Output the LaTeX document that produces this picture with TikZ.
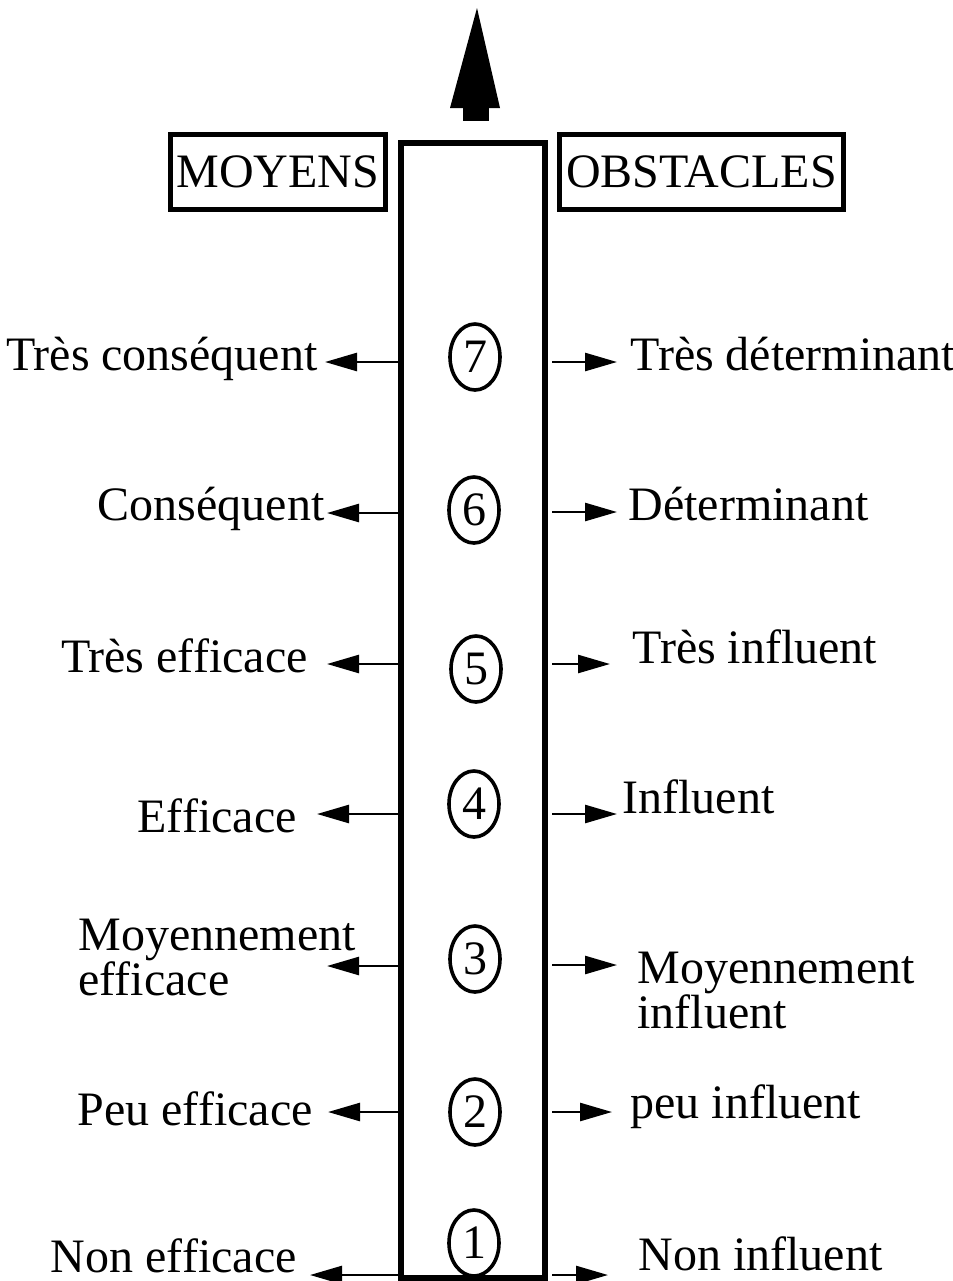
\documentclass[tikz,border=0pt]{standalone}
\usepackage{fontspec}
\setmainfont{Liberation Serif}
\usetikzlibrary{shapes.geometric,arrows.meta}
\tikzset{
    EL/.style ={ellipse, draw, line width=1.8pt, minimum width=25pt, minimum height=33pt, inner sep=0pt},
    BX/.style ={rectangle, draw, line width=2.5pt, minimum height=37.5pt, inner sep=0pt},
    LT/.style ={inner sep=0pt, anchor=base east},
    RT/.style ={inner sep=0pt, anchor=base west, align=left},
    AR/.style ={line width=1.3pt, -{Triangle[length=16pt,width=9pt]}}
}

\begin{document}
\begin{tikzpicture}[x=0.5pt, y=-0.5pt, every node/.append style={font=\fontsize{24pt}{22.5pt}\selectfont}]
    \useasboundingbox (0,0) rectangle (953,1281);
    % axis and top arrow
    \node[rectangle, draw, line width=3pt, minimum width=72pt, minimum height=567.5pt] (col) at (473,710.5) {};
    \fill (450,108) -- (477,8) -- (500,108) -- cycle;
    \fill (463,107) rectangle (489,121);
    % headers
    \node[BX, minimum width=107.5pt] (moy) at (278,171.5) {MOYENS};
    \node[BX, minimum width=142pt] (obs) at (701.5,172) {OBSTACLES};
    % levels
    \node[EL] (n7) at (475,357) {7};
    \node[EL] (n6) at (474,510) {6};
    \node[EL] (n5) at (476,669) {5};
    \node[EL] (n4) at (474,804) {4};
    \node[EL] (n3) at (475,959) {3};
    \node[EL] (n2) at (475,1112) {2};
    \node[EL] (n1) at (474,1243) {1};
    % moyens side
    \node[LT] (m7) at (318,370) {Très conséquent};
    \node[LT] (m6) at (325,520) {Conséquent};
    \node[LT] (m5) at (308,672) {Très efficace};
    \node[LT] (m4) at (297,832) {Efficace};
    \node[RT] (m3) at (78,995) {Moyennement\\efficace};
    \node[LT] (m2) at (313,1125) {Peu efficace};
    \node[LT] (m1) at (297,1272) {Non efficace};
    % obstacles side
    \node[RT] (o7) at (630,370) {Très déterminant};
    \node[RT] (o6) at (628,520) {Déterminant};
    \node[RT] (o5) at (632,663) {Très influent};
    \node[RT] (o4) at (622,813) {Influent};
    \node[RT] (o3) at (637,1028) {Moyennement\\influent};
    \node[RT] (o2) at (630,1118) {peu influent};
    \node[RT] (o1) at (638,1270) {Non influent};
    % arrow ends
    \coordinate (l7) at (325,362);  \coordinate (r7) at (617,362);
    \coordinate (l6) at (327,513);  \coordinate (r6) at (617,512);
    \coordinate (l5) at (327,664);  \coordinate (r5) at (610,664);
    \coordinate (l4) at (317,814);  \coordinate (r4) at (617,814);
    \coordinate (l3) at (327,966);  \coordinate (r3) at (617,965);
    \coordinate (l2) at (328,1112); \coordinate (r2) at (612,1112);
    \coordinate (l1) at (310,1275); \coordinate (r1) at (608,1275);
    \draw[AR] (col.west |- l7) -- (l7);  \draw[AR] ([xshift=2pt]col.east |- r7) -- (r7);
    \draw[AR] (col.west |- l6) -- (l6);  \draw[AR] ([xshift=2pt]col.east |- r6) -- (r6);
    \draw[AR] (col.west |- l5) -- (l5);  \draw[AR] ([xshift=2pt]col.east |- r5) -- (r5);
    \draw[AR] (col.west |- l4) -- (l4);  \draw[AR] ([xshift=2pt]col.east |- r4) -- (r4);
    \draw[AR] (col.west |- l3) -- (l3);  \draw[AR] ([xshift=2pt]col.east |- r3) -- (r3);
    \draw[AR] (col.west |- l2) -- (l2);  \draw[AR] ([xshift=2pt]col.east |- r2) -- (r2);
    \draw[AR] (col.west |- l1) -- (l1);  \draw[AR] ([xshift=2pt]col.east |- r1) -- (r1);
\end{tikzpicture}
\end{document}
